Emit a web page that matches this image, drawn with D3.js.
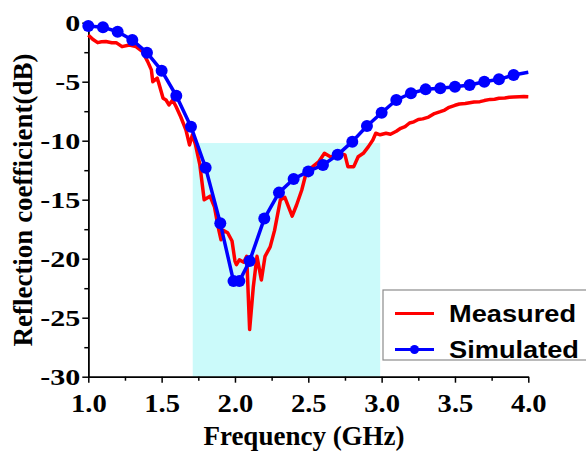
<!DOCTYPE html>
<html>
<head>
<meta charset="utf-8">
<script src="https://cdn.jsdelivr.net/npm/d3@7"></script>
<style>
  html, body { margin: 0; padding: 0; background: #fff; }
  svg { display: block; }
</style>
</head>
<body>
<svg width="586" height="452"></svg>
<script>
// Измеренные данные
const measFreq = [1.00, 1.03, 1.064, 1.09, 1.12, 1.16, 1.19, 1.23, 1.28, 1.325, 1.37, 1.405, 1.43, 1.44, 1.47, 1.48,
    1.51, 1.53, 1.55, 1.575, 1.598, 1.63, 1.666, 1.69, 1.71, 1.73, 1.76, 1.79, 1.83, 1.86, 1.885, 1.905, 1.92,
    1.95, 1.98, 2.00, 2.01, 2.03, 2.06, 2.08, 2.10, 2.125, 2.15, 2.18, 2.205, 2.24, 2.27, 2.31, 2.34, 2.39,
    2.42, 2.455, 2.49, 2.53, 2.57, 2.61, 2.65, 2.68, 2.715, 2.75, 2.77, 2.81, 2.84, 2.875, 2.91, 2.94, 2.96,
    2.99, 3.03, 3.06, 3.10, 3.13, 3.16, 3.19, 3.22, 3.25, 3.28, 3.32, 3.36, 3.40, 3.43, 3.46, 3.50, 3.53,
    3.57, 3.60, 3.63, 3.67, 3.70, 3.74, 3.77, 3.80, 3.84, 3.87, 3.90, 3.94, 3.97, 4.00];
const measS11 = [-1.04, -1.4, -1.69, -1.62, -1.6, -1.7, -1.69, -2.03, -1.89, -2.03, -2.46, -3.3, -4.0, -5.0, -4.7, -5.1,
    -6.4, -6.55, -6.97, -6.55, -7.1, -7.97, -9.1, -10.36, -9.5, -10.3, -12.0, -15.0, -14.7, -15.6, -17.3, -18.4, -17.6,
    -17.8, -18.5, -20.2, -20.5, -20.1, -20.3, -19.8, -26.0, -22.4, -19.8, -21.8, -19.8, -19.0, -17.6, -15.0, -14.8, -16.4,
    -15.45, -14.2, -12.5, -12.2, -11.8, -11.07, -11.36, -11.36, -11.07, -11.2, -12.2, -12.2, -11.36, -11.07, -10.5, -9.94, -9.37,
    -9.5, -9.37, -9.45, -9.2, -8.95, -8.8, -8.5, -8.4, -8.2, -8.15, -8.0, -7.7, -7.54, -7.4, -7.17, -7.0, -6.89,
    -6.85, -6.78, -6.72, -6.69, -6.6, -6.5, -6.48, -6.4, -6.38, -6.32, -6.3, -6.27, -6.25, -6.27];

// Результаты моделирования
const simFreq = [1.0, 1.1, 1.2, 1.3, 1.4, 1.5, 1.6, 1.7, 1.8, 1.9, 1.99, 2.03, 2.1, 2.2, 2.3, 2.4, 2.5, 2.6,
    2.7, 2.8, 2.9, 3.0, 3.1, 3.2, 3.3, 3.4, 3.5, 3.6, 3.7, 3.8, 3.9, 4.0];
const simS11 = [-0.28, -0.39, -0.76, -1.47, -2.54, -4.07, -6.19, -8.81, -12.3, -17.0, -21.9, -21.9, -20.2, -16.6,
    -14.4, -13.25, -12.6, -12.06, -11.2, -10.08, -8.75, -7.63, -6.55, -5.98, -5.65, -5.56, -5.42, -5.28, -5.0,
    -4.8, -4.43, -4.2];

// Полоса рабочих частот (подсветка)
const bandFreq = [1.712, 2.99];
const bandLevel = -10.2;

// Подписи делений
const xTicks = [1.0, 1.5, 2.0, 2.5, 3.0, 3.5, 4.0];
const xMinorTicks = [1.25, 1.75, 2.25, 2.75, 3.25, 3.75];
const yTicks = [0, -5, -10, -15, -20, -25, -30];
const yMinorTicks = [-2.5, -7.5, -12.5, -17.5, -22.5, -27.5];

const seriesNames = ["Measured", "Simulated"];

const serif = "'Liberation Serif', 'Times New Roman', serif";
const sans = "'Liberation Sans', Arial, sans-serif";

function drawGraph() {
    let svg = d3.select("svg");
    svg.selectAll('*').remove();

    const area = { left: 88.3, right: 528.3, top: 22.7, bottom: 376.7 };

    let scX = d3.scaleLinear().domain([1, 4]).range([area.left, area.right]);
    let scY = d3.scaleLinear().domain([-30, 0]).range([area.bottom, area.top]);

    // Голубой прямоугольник полосы
    svg.append("rect")
        .attr("x", scX(bandFreq[0]))
        .attr("y", scY(bandLevel))
        .attr("width", scX(bandFreq[1]) - scX(bandFreq[0]))
        .attr("height", scY(-30) - scY(bandLevel))
        .style("fill", "#cbfafa");

    createAxis(svg, scX, scY, area);

    const measured = measFreq.map((f, i) => ({ f: f, v: measS11[i] }));
    const simulated = simFreq.map((f, i) => ({ f: f, v: simS11[i] }));

    const line = d3.line().x(d => scX(d.f)).y(d => scY(d.v));

    svg.append("path")
        .datum(measured)
        .attr("fill", "none")
        .attr("stroke", "#ff0000")
        .attr("stroke-width", 3.5)
        .attr("stroke-linejoin", "round")
        .attr("d", line);

    svg.append("path")
        .datum(simulated)
        .attr("fill", "none")
        .attr("stroke", "#0000ff")
        .attr("stroke-width", 3.5)
        .attr("stroke-linejoin", "round")
        .attr("d", line);

    // маркеры (на последней точке маркера нет)
    svg.selectAll(".dot-sim")
        .data(simulated.filter(d => d.f < 3.95))
        .enter()
        .append("circle")
        .attr("class", "dot-sim")
        .attr("r", 6)
        .attr("cx", d => scX(d.f))
        .attr("cy", d => scY(d.v))
        .style("fill", "#0000ff");

    createLegend(svg);
}

// Оси, деления и подписи
function createAxis(svg, scX, scY, area) {
    let axisX = d3.axisBottom(scX).tickValues(xTicks).tickSize(6).tickSizeOuter(0).tickFormat(d3.format(".1f"));
    let axisXminor = d3.axisBottom(scX).tickValues(xMinorTicks).tickSize(4).tickSizeOuter(0).tickFormat("");
    let axisY = d3.axisLeft(scY).tickValues(yTicks).tickSize(6).tickSizeOuter(0).tickFormat(d => d3.format("d")(d).replace("−", "-"));
    let axisYminor = d3.axisLeft(scY).tickValues(yMinorTicks).tickSize(4).tickSizeOuter(0).tickFormat("");

    let gx = svg.append("g")
        .attr("transform", `translate(0, ${area.bottom})`)
        .call(axisX);
    svg.append("g")
        .attr("transform", `translate(0, ${area.bottom})`)
        .call(axisXminor);
    let gy = svg.append("g")
        .attr("transform", `translate(${area.left}, 0)`)
        .call(axisY);
    svg.append("g")
        .attr("transform", `translate(${area.left}, 0)`)
        .call(axisYminor);

    svg.selectAll(".domain, .tick line")
        .attr("stroke", "#000")
        .attr("stroke-width", 1.5);

    gx.selectAll("text")
        .attr("y", 0)
        .attr("dy", 0)
        .attr("transform", "translate(0, 35)")
        .style("font-family", serif)
        .style("font-weight", "bold")
        .style("font-size", "26px")
        .style("fill", "#000");

    gy.selectAll("text")
        .attr("x", -8)
        .attr("dy", "0.34em")
        .style("font-family", serif)
        .style("font-weight", "bold")
        .style("font-size", "24px")
        .style("fill", "#000");

    // растягиваем подписи по горизонтали, как на исходнике
    gx.selectAll("text").each(function () {
        this.setAttribute("textLength", this.getComputedTextLength() * 1.1);
        this.setAttribute("lengthAdjust", "spacingAndGlyphs");
    });
    gy.selectAll("text").each(function () {
        this.setAttribute("textLength", this.getComputedTextLength() * 1.25);
        this.setAttribute("lengthAdjust", "spacingAndGlyphs");
    });

    svg.append("text")
        .attr("x", 304)
        .attr("y", 445)
        .attr("text-anchor", "middle")
        .style("font-family", serif)
        .style("font-weight", "bold")
        .style("font-size", "27px")
        .text("Frequency (GHz)");

    svg.append("text")
        .attr("transform", "translate(32, 200) rotate(-90)")
        .attr("text-anchor", "middle")
        .style("font-family", serif)
        .style("font-weight", "bold")
        .style("font-size", "27px")
        .text("Reflection coefficient(dB)");
}

// Легенда
function createLegend(svg) {
    let g = svg.append("g");

    g.append("rect")
        .attr("x", 383)
        .attr("y", 290)
        .attr("width", 210)
        .attr("height", 70)
        .style("fill", "#fff")
        .style("stroke", "#8c8c8c")
        .style("stroke-width", 1.2);

    const colors = ["#ff0000", "#0000ff"];
    const rowY = [313.5, 349.5];

    seriesNames.forEach((name, i) => {
        g.append("line")
            .attr("x1", 395).attr("x2", 434)
            .attr("y1", rowY[i]).attr("y2", rowY[i])
            .attr("stroke", colors[i])
            .attr("stroke-width", 3);
        if (i === 1) {
            g.append("circle")
                .attr("cx", 414.5).attr("cy", rowY[i]).attr("r", 4.5)
                .style("fill", colors[i]);
        }
        let t = g.append("text")
            .attr("x", 449)
            .attr("y", rowY[i] + 8)
            .style("font-family", sans)
            .style("font-weight", "bold")
            .style("font-size", "23px")
            .text(name);
        t.attr("textLength", i === 0 ? 127 : 130).attr("lengthAdjust", "spacingAndGlyphs");
    });
}

drawGraph();
</script>
</body>
</html>
